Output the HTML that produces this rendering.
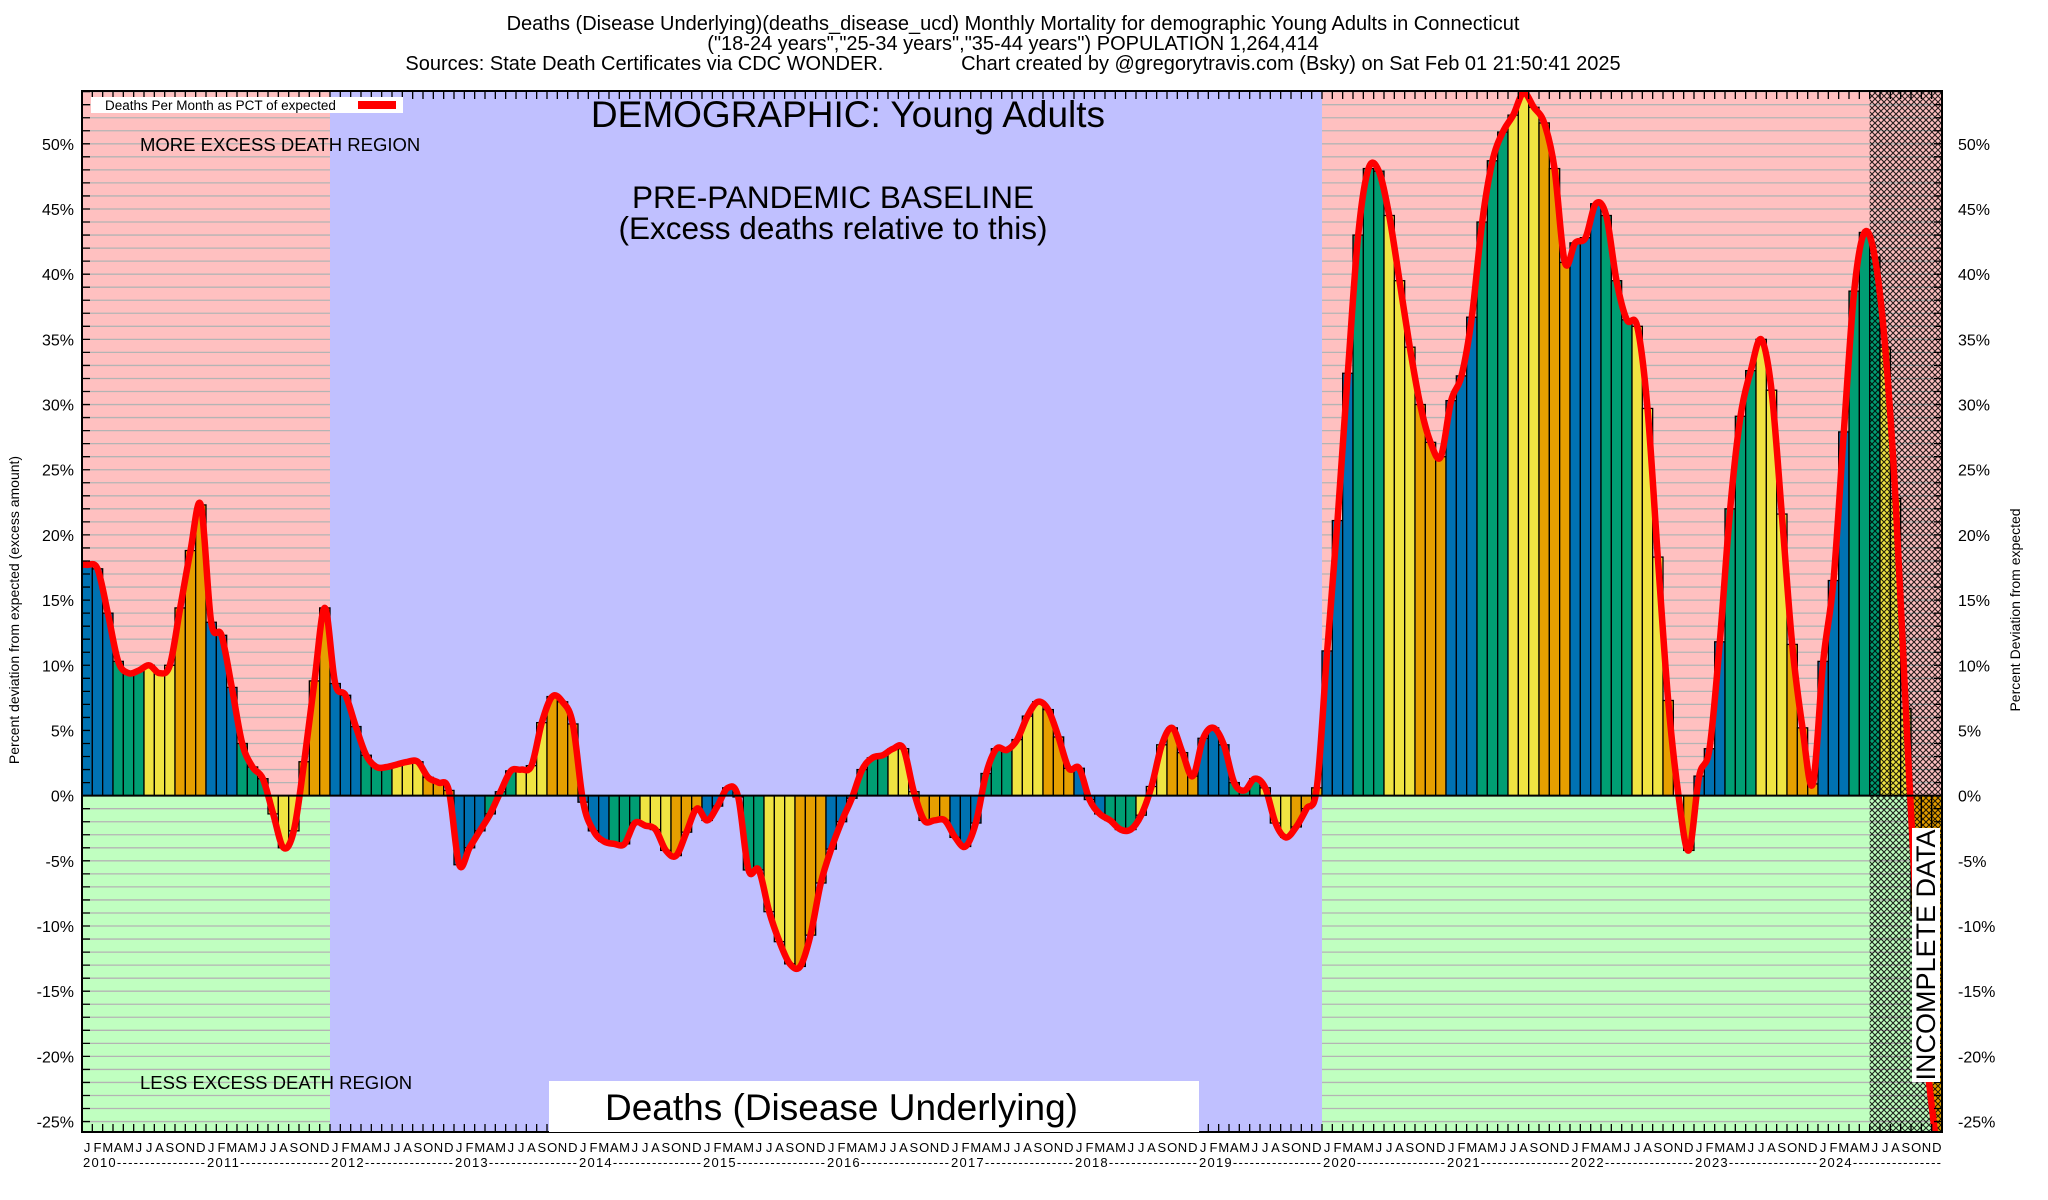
<!DOCTYPE html>
<html><head><meta charset="utf-8"><style>
html,body{margin:0;padding:0;background:#fff;}
svg{display:block;font-family:"Liberation Sans",sans-serif;}
</style></head><body>
<svg id="chart" width="2048" height="1200" viewBox="0 0 2048 1200" xmlns="http://www.w3.org/2000/svg">
<defs>
<pattern id="hatch" patternUnits="userSpaceOnUse" width="6" height="6">
<path d="M0,0 L6,6 M6,0 L0,6" stroke="#000" stroke-width="1.1"/>
</pattern>
<clipPath id="plotclip"><rect x="82" y="91" width="1860" height="1041"/></clipPath>
</defs>
<g font-size="20" text-anchor="middle" fill="#000">
<text x="1013" y="30">Deaths (Disease Underlying)(deaths_disease_ucd) Monthly Mortality for demographic Young Adults in Connecticut</text>
<text x="1013" y="50">("18-24 years","25-34 years","35-44 years") POPULATION 1,264,414</text>
<text x="1013" y="70" xml:space="preserve">Sources: State Death Certificates via CDC WONDER.              Chart created by @gregorytravis.com (Bsky) on Sat Feb 01 21:50:41 2025</text>
</g>
<g id="bg" clip-path="url(#plotclip)"></g>
<g id="grid" clip-path="url(#plotclip)"></g>
<g id="bars" clip-path="url(#plotclip)"></g>
<g id="hatchg" clip-path="url(#plotclip)"></g>
<g id="line" clip-path="url(#plotclip)"></g>
<g id="axes"></g>
<g id="labels"></g>
<g id="annot"></g>
</svg>
<script>
const years = [2010,2011,2012,2013,2014,2015,2016,2017,2018,2019,2020,2021,2022,2023,2024];
const monthLetters = ["J","F","M","A","M","J","J","A","S","O","N","D"];
const yTicks = [-25,-20,-15,-10,-5,0,5,10,15,20,25,30,35,40,45,50];
const v2010 = [17.7,17.4,14,10.3,9.4,9.6,10,9.4,10,14.4,18.8,22.3];
const v2011 = [13.3,12.3,8.3,4,2.2,1.3,-1.4,-4,-2.7,2.6,8.8,14.4];
const v2012 = [8.6,7.7,5.3,3.1,2.2,2.2,2.4,2.6,2.6,1.4,1,0.4];
const v2013 = [-5.3,-4,-2.7,-1.4,0.3,1.9,2,2.3,5.6,7.6,7.2,5.5];
const v2014 = [-0.5,-2.7,-3.5,-3.7,-3.7,-2.1,-2.3,-2.6,-4.2,-4.6,-2.8,-1];
const v2015 = [-1.9,-0.8,0.6,-0.1,-5.7,-5.7,-8.9,-11.2,-12.9,-13.1,-10.7,-6.7];
const v2016 = [-4.1,-2,-0.2,2,2.9,3.1,3.6,3.6,0.3,-1.9,-1.9,-1.9];
const v2017 = [-3.2,-3.9,-2.1,1.7,3.6,3.5,4.3,6.1,7.2,6.6,4.5,2.1];
const v2018 = [2.1,-0.3,-1.4,-1.9,-2.6,-2.6,-1.5,0.7,3.9,5.2,3.3,1.5];
const v2019 = [4.4,5.2,3.9,1,0.4,1.3,0.6,-2.1,-3.2,-2.4,-1,0.6];
const v2020 = [11.1,21.1,32.4,43,48.1,47.9,44.5,39.5,34.4,30,27.1,26];
const v2021 = [30.3,32.2,36.7,44,48.7,50.9,52.2,53.9,52.8,51.6,48.1,40.9];
const v2022 = [42.4,42.8,45.4,44.5,39.5,36.5,36,29.7,18.3,7.3,0,-4.2];
const v2023 = [1.5,3.6,11.8,22,29.1,32.6,35,31.1,21.6,11.6,5.2,0.9];
const v2024 = [10.3,16.5,27.9,38.7,43.2,41.3,34.4,22.8,6.7,-9,-20,-27];
const values = [].concat(v2010,v2011,v2012,v2013,v2014,v2015,v2016,v2017,v2018,v2019,v2020,v2021,v2022,v2023,v2024);

const NS="http://www.w3.org/2000/svg";
const L=82,R=1942,T=91,B=1132,YMIN=-25.8,YMAX=54.05;
const N=years.length*12, bw=(R-L)/N;
function xL(i){return L+i*bw;}
function xC(i){return L+(i+0.5)*bw;}
function y(v){return B-(v-YMIN)/(YMAX-YMIN)*(B-T);}
function mk(tag,attrs,parent){const e=document.createElementNS(NS,tag);for(const k in attrs)e.setAttribute(k,attrs[k]);if(parent)parent.appendChild(e);return e;}
const bg=document.getElementById('bg'),grid=document.getElementById('grid'),bars=document.getElementById('bars'),
hatchg=document.getElementById('hatchg'),lineg=document.getElementById('line'),axes=document.getElementById('axes'),
labels=document.getElementById('labels'),annot=document.getElementById('annot');
const y0=y(0);
const regions=[[0,24,'#ffc0c0','#c0ffc0','early'],[24,120,'#c0c0ff','#c0c0ff','baseline'],[120,N,'#ffc0c0','#c0ffc0','pandemic']];
regions.forEach(r=>{
 let a=mk('rect',{x:xL(r[0]),y:T,width:xL(r[1])-xL(r[0]),height:y0-T,fill:r[2]},bg);
 
 
 let b=mk('rect',{x:xL(r[0]),y:y0,width:xL(r[1])-xL(r[0]),height:B-y0,fill:r[3]},bg);
 
 
});
for(let v=-25;v<=54;v++){
 [[0,24],[120,N]].forEach(s=>{
  const g=mk('line',{x1:xL(s[0]),x2:xL(s[1]),y1:y(v),y2:y(v),stroke:'#b4b4b4','stroke-width':1.3},grid);
  
  
 });
}
const colors=['#0072b2','#009e73','#f0e442','#e69f00'];
values.forEach((v,i)=>{
 const q=Math.floor((i%12)/3);
 const r=mk('rect',{x:xL(i),y:Math.min(y(v),y0),width:bw,height:Math.abs(y(v)-y0),fill:colors[q],stroke:'#000','stroke-width':1.3},bars);
 
 
});
const hs=N-7;
const h=mk('rect',{x:xL(hs),y:T,width:xL(N)-xL(hs),height:B-T,fill:'url(#hatch)',opacity:0.85},hatchg);


const pts=values.map((v,i)=>[xC(i),y(v)]);
pts.unshift([L,pts[0][1]]);
let d='M'+pts[0][0]+','+pts[0][1];
for(let i=0;i<pts.length-1;i++){
 const p0=pts[Math.max(0,i-1)],p1=pts[i],p2=pts[i+1],p3=pts[Math.min(pts.length-1,i+2)];
 const c1=[p1[0]+(p2[0]-p0[0])/6,p1[1]+(p2[1]-p0[1])/6],c2=[p2[0]-(p3[0]-p1[0])/6,p2[1]-(p3[1]-p1[1])/6];
 d+=' C'+c1[0].toFixed(1)+','+c1[1].toFixed(1)+' '+c2[0].toFixed(1)+','+c2[1].toFixed(1)+' '+p2[0].toFixed(1)+','+p2[1].toFixed(1);
}
const ln=mk('path',{d:d,fill:'none',stroke:'#ff0000','stroke-width':6.5,'stroke-linejoin':'round'},lineg);


const fr=mk('rect',{x:L,y:T,width:R-L,height:B-T,fill:'none',stroke:'#000','stroke-width':2},axes);


const zl=mk('line',{x1:L,x2:R,y1:y0,y2:y0,stroke:'#000','stroke-width':2},axes);


let td='';
for(let i=0;i<=N;i++){const x=xL(i);td+=`M${x},${T}v8M${x},${B}v-8`;}
for(let v=-25;v<=54;v++){const yy=y(v);td+=`M${L},${yy}h8M${R},${yy}h-8`;}
const tk=mk('path',{d:td,stroke:'#000','stroke-width':1.3},axes);


yTicks.forEach(v=>{
 const a=mk('text',{x:74,y:y(v)+6,'font-size':16,'text-anchor':'end'},labels);a.textContent=v+'%';
 
 
 const b=mk('text',{x:1958,y:y(v)+6,'font-size':16,'text-anchor':'start'},labels);b.textContent=v+'%';
 
 
});
for(let i=0;i<N;i++){
 const t=mk('text',{x:xC(i),y:1152,'font-size':13,'text-anchor':'middle'},labels);t.textContent=monthLetters[i%12];
 
 
}
years.forEach((yr,k)=>{
 const t=mk('text',{x:xL(k*12)+1,y:1167,'font-size':13,textLength:bw*12-2,lengthAdjust:'spacing'},labels);
 t.textContent=yr+'----------------';
 
 
});
</script>
<script>
(function(){
const NS="http://www.w3.org/2000/svg";
const a=document.getElementById('annot');
function tx(x,yy,s,txt,name,anchor,extra){const e=document.createElementNS(NS,'text');e.setAttribute('x',x);e.setAttribute('y',yy);e.setAttribute('font-size',s);e.setAttribute('text-anchor',anchor||'start');if(extra)for(const k in extra)e.setAttribute(k,extra[k]);e.textContent=txt;


a.appendChild(e);return e;}
function rc(x,yy,w,h,f,name){const e=document.createElementNS(NS,'rect');e.setAttribute('x',x);e.setAttribute('y',yy);e.setAttribute('width',w);e.setAttribute('height',h);e.setAttribute('fill',f);


a.appendChild(e);return e;}
rc(91,97,312,16,'#fff','legend-box');
tx(105,110,13.5,'Deaths Per Month as PCT of expected','legend-label');
rc(358,101,38,8,'#ff0000','legend-swatch');
tx(848,127,37,'DEMOGRAPHIC: Young Adults','demographic-title','middle');
tx(833,208,31.5,'PRE-PANDEMIC BASELINE','baseline-label','middle');
tx(833,239,31.5,'(Excess deaths relative to this)','baseline-sublabel','middle');
tx(140,151,18.5,'MORE EXCESS DEATH REGION','more-excess-label');
tx(140,1089,18.5,'LESS EXCESS DEATH REGION','less-excess-label');
rc(549,1081,650,51,'#fff','metric-label-box');
tx(605,1120,37,'Deaths (Disease Underlying)','metric-label','start');
rc(1912,828,28,254,'#fff','incomplete-box');
tx(0,0,27,'INCOMPLETE DATA','incomplete-label','middle',{transform:'translate(1935,955) rotate(-90)'});
tx(0,0,14,'Percent deviation from expected (excess amount)','y-axis-title-left','middle',{transform:'translate(19,610) rotate(-90)'});
tx(0,0,14,'Percent Deviation from expected','y-axis-title-right','middle',{transform:'translate(2020,610) rotate(-90)'});
})();
</script>
</body></html>
